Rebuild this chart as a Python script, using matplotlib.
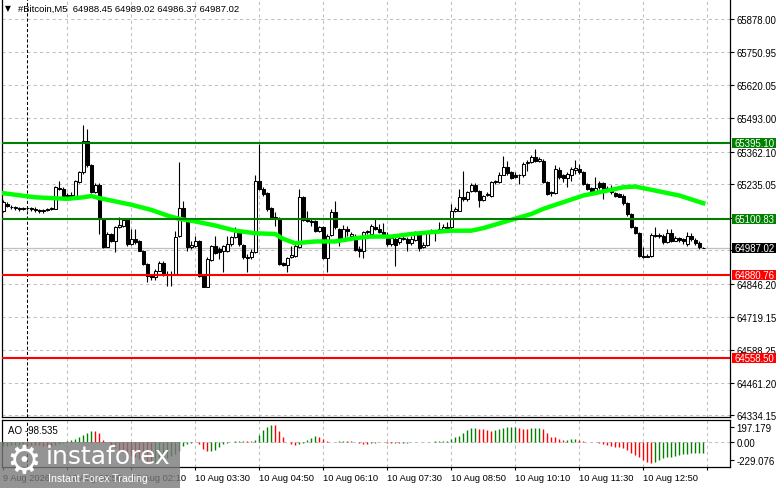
import matplotlib
matplotlib.use('Agg')
import matplotlib.pyplot as plt
from matplotlib.patches import Rectangle
import matplotlib.transforms as mtransforms

plt.rcParams['font.family'] = ['Liberation Sans', 'DejaVu Sans']

# ---------------- data ----------------
opens = [65129, 65158, 65148, 65145, 65142, 65140, 65142, 65141, 65139, 65135,
         65131, 65135, 65139, 65140, 65220, 65218, 65192, 65189, 65191, 65243,
         65282, 65405, 65308, 65204, 65233, 65100, 64992, 65041, 65015, 65067,
         65074, 65096, 65002, 65022, 65015, 64976, 64924, 64879, 64872, 64898,
         64927, 64885, 64880, 64885, 65035, 65141, 65090, 64989, 64995, 65015,
         64879, 64836, 64941, 64996, 64983, 64973, 64973, 65002, 65028, 65048,
         64999, 64953, 64950, 64970, 65249, 65217, 65200, 65142, 65109, 65100,
         64927, 64921, 64950, 64957, 64989, 65184, 65100, 65093, 65090, 65051,
         65070, 64947, 65038, 65126, 65061, 65025, 65060, 65035, 65022, 64983,
         64976, 65048, 65041, 65070, 65061, 65048, 65038, 65002, 65022, 65009,
         65022, 65022, 65005, 65018, 65048, 64989, 64999, 65051, 65048, 65051,
         65061, 65067, 65067, 65132, 65132, 65187, 65178, 65210, 65233, 65210,
         65174, 65194, 65191, 65243, 65243, 65272, 65304, 65282, 65269, 65269,
         65269, 65317, 65321, 65340, 65324, 65327, 65243, 65204, 65200, 65291,
         65269, 65259, 65272, 65291, 65295, 65282, 65236, 65220, 65207, 65239,
         65239, 65220, 65210, 65200, 65197, 65191, 65161, 65119, 65070, 65044,
         64957, 64953, 64957, 65038, 65035, 65035, 65009, 65044, 65015, 65025,
         65020, 65002, 65035, 65018, 65005, 64988.45]
highs = [65174, 65165, 65153, 65150, 65148, 65148, 65148, 65145, 65145, 65140,
         65140, 65142, 65148, 65230, 65249, 65226, 65200, 65204, 65252, 65288,
         65464, 65451, 65314, 65239, 65239, 65103, 65048, 65044, 65074, 65106,
         65100, 65100, 65061, 65061, 65018, 64979, 64927, 64885, 64905, 64934,
         64934, 64898, 64898, 65054, 65320, 65171, 65093, 65015, 65035, 65018,
         64885, 64950, 64999, 65035, 64989, 64999, 65035, 65035, 65067, 65054,
         65002, 64963, 64983, 65269, 65392, 65223, 65204, 65145, 65126, 65106,
         64931, 64953, 64996, 65002, 65217, 65191, 65132, 65100, 65096, 65074,
         65074, 65041, 65139, 65171, 65064, 65077, 65074, 65048, 65041, 64996,
         65054, 65057, 65080, 65100, 65080, 65083, 65048, 65031, 65035, 65035,
         65038, 65031, 65035, 65054, 65054, 65009, 65054, 65061, 65057, 65087,
         65080, 65087, 65158, 65145, 65217, 65285, 65210, 65239, 65239, 65213,
         65194, 65204, 65249, 65252, 65282, 65343, 65327, 65288, 65282, 65275,
         65321, 65330, 65347, 65373, 65340, 65334, 65249, 65210, 65308, 65301,
         65275, 65282, 65301, 65330, 65314, 65285, 65239, 65223, 65262, 65249,
         65243, 65230, 65233, 65204, 65200, 65197, 65165, 65122, 65074, 65048,
         64989, 64963, 65044, 65067, 65044, 65041, 65061, 65061, 65035, 65031,
         65025, 65048, 65044, 65025, 65012, 64989.02]
lows = [65127, 65145, 65140, 65135, 65132, 65135, 65135, 65129, 65126, 65123,
        65122, 65132, 65135, 65137, 65213, 65187, 65184, 65187, 65187, 65239,
        65275, 65301, 65200, 65200, 65041, 64986, 64989, 65009, 64970, 65064,
        65070, 64996, 64999, 65002, 64973, 64921, 64853, 64863, 64862, 64895,
        64879, 64840, 64837, 64882, 65028, 65103, 64976, 64983, 64992, 64875,
        64833, 64833, 64937, 64963, 64944, 64892, 64970, 64996, 65025, 64996,
        64944, 64892, 64944, 64966, 65213, 65191, 65132, 65103, 65074, 64921,
        64918, 64892, 64947, 64953, 64986, 65090, 65087, 65074, 65048, 65048,
        64944, 64892, 65035, 65061, 64996, 65021, 65035, 65017, 64976, 64950,
        64947, 65041, 65038, 65057, 65044, 65035, 64996, 64996, 64918, 65002,
        65018, 64973, 64999, 65015, 64976, 64986, 64996, 65044, 65015, 65048,
        65051, 65054, 65061, 65126, 65129, 65171, 65168, 65204, 65204, 65145,
        65168, 65191, 65187, 65236, 65239, 65269, 65272, 65256, 65259, 65236,
        65265, 65285, 65317, 65321, 65321, 65239, 65194, 65191, 65197, 65256,
        65243, 65223, 65249, 65275, 65275, 65233, 65213, 65200, 65204, 65217,
        65178, 65207, 65197, 65187, 65184, 65155, 65113, 65064, 65041, 64950,
        64947, 64950, 64953, 65031, 65025, 65002, 65005, 65009, 65012, 65009,
        65002, 64996, 65015, 64999, 64983, 64986.37]
closes = [65167, 65152, 65145, 65142, 65140, 65142, 65141, 65139, 65135, 65131,
          65135, 65139, 65142, 65223, 65218, 65189, 65187, 65194, 65246, 65282,
          65405, 65308, 65204, 65233, 65100, 64989, 65041, 65015, 65070, 65076,
          65096, 65002, 65022, 65009, 64976, 64924, 64879, 64872, 64898, 64927,
          64885, 64880, 64885, 65031, 65141, 65106, 64989, 64998, 65012, 64879,
          64836, 64944, 64996, 64966, 64970, 64996, 65002, 65028, 65048, 65002,
          64950, 64947, 64970, 65249, 65217, 65197, 65139, 65109, 65100, 64924,
          64921, 64947, 64960, 64996, 65184, 65096, 65090, 65087, 65051, 65067,
          64947, 65035, 65126, 65067, 65025, 65060, 65051, 65041, 64979, 64973,
          65048, 65051, 65074, 65061, 65048, 65038, 65002, 65025, 64999, 65025,
          65025, 65005, 65022, 65048, 64986, 64999, 65048, 65048, 65051, 65061,
          65067, 65057, 65132, 65139, 65184, 65178, 65204, 65233, 65207, 65174,
          65191, 65197, 65243, 65246, 65272, 65304, 65278, 65259, 65265, 65271,
          65314, 65321, 65340, 65324, 65334, 65243, 65197, 65200, 65295, 65262,
          65259, 65275, 65295, 65298, 65282, 65236, 65217, 65204, 65220, 65223,
          65217, 65213, 65204, 65191, 65187, 65161, 65119, 65070, 65044, 64957,
          64953, 64957, 65038, 65035, 65037, 65009, 65044, 65015, 65025, 65018,
          65015, 65035, 65022, 65005, 64989, 64987.02]

ma_idx = [0, 8, 16, 20, 22, 24, 28, 32, 37, 41, 44, 48, 53, 58, 63, 68, 70, 73, 78,
          83, 88, 92, 97, 102, 107, 112, 117, 120, 125, 132, 135, 140, 145, 150,
          155, 158, 164, 169, 175]
ma_val = [65200, 65184, 65178, 65184, 65189, 65181, 65168, 65155, 65135, 65113,
          65100, 65090, 65074, 65054, 65044, 65041, 65022, 65005, 65012, 65012,
          65025, 65031, 65031, 65041, 65048, 65054, 65054, 65064, 65087, 65119,
          65139, 65165, 65191, 65207, 65223, 65226, 65207, 65191, 65161]

ao = [-40, -37, -34, -31, -28, -25, -27, -29, -31, -33, -35, -36, -37, -30, -20,
      -10, 6, 12, 27, 42, 63, 80, 95, 93, 82, 20, -5, -30, -55, -75, -95, -110,
      -125, -138, -152, -165, -178, -190, -185, -175, -163, -150, -132, -110, -80,
      -40, -18, -9, -3, -18, -63, -88, -86, -79, -48, -18, -9, 2, 5, 7, 10, 8, 6,
      14, 57, 103, 133, 154, 150, 97, 42, -3, -18, -33, -18, -9, 12, 33, 51, 42,
      21, 4, 2, 1, 3, 4, 6, 3, -4, -10, -17, -21, -14, -7, -4, -6, -8, -10, -9,
      -10, -8, -7, -5, -4, -3, -1, 0, 2, 3, 4, 6, 9, 21, 39, 54, 76, 106, 121, 127,
      115, 112, 106, 100, 106, 112, 121, 136, 137, 138, 121, 120, 119, 124, 127,
      128, 112, 75, 45, 39, 21, 15, 16, 21, 22, 15, 9, 2, -1, -3, -12, -21, -30,
      -39, -45, -51, -60, -75, -100, -121, -142, -166, -184, -196, -187, -166,
      -151, -142, -136, -130, -121, -112, -110, -106, -104, -101, -98.535]

levels_green = [65395.10, 65100.83]
levels_red = [64880.76, 64558.50]
current_price = 64987.02

price_ticks = [65878.00, 65750.95, 65620.05, 65493.00, 65362.10, 65235.05, 65104.15,
               64977.10, 64846.20, 64719.15, 64588.25, 64461.20, 64334.15]
hidden_ticks = [65104.15, 64977.10]
ao_top, ao_bot = 197.179, -229.076

time_pos = [0, 16, 32, 48, 64, 80, 96, 112, 128, 144, 160, 176]
time_labels = ['9 Aug 2026', '10 Aug 00:50', '10 Aug 02:10', '10 Aug 03:30',
               '10 Aug 04:50', '10 Aug 06:10', '10 Aug 07:30', '10 Aug 08:50',
               '10 Aug 10:10', '10 Aug 11:30', '10 Aug 12:50', '']
day_sep = 6

# ---------------- layout ----------------
W, H = 781, 489
fig = plt.figure(figsize=(W / 100, H / 100), dpi=100)
fig.patch.set_facecolor('white')


def box(x0, y0, x1, y1):
    return [x0 / W, 1 - y1 / H, (x1 - x0) / W, (y1 - y0) / H]


ax = fig.add_axes(box(2, 0, 730, 418))
ax2 = fig.add_axes(box(2, 421, 730, 468), sharex=ax)

n = len(closes)
xs = list(range(n))
ax.set_xlim(-0.325, 181.675)
ymin, ymax = 64328.1, 65956.6
ax.set_ylim(ymin, ymax)
ppx = (ymax - ymin) / 418.0

GRID = '#C0C0C0'
for a in (ax, ax2):
    for t in time_pos[1:]:
        a.axvline(t, color=GRID, lw=0.75, ls=(0, (3, 3)), zorder=0)
    a.axvline(day_sep, color='black', lw=0.75, ls=(0, (3, 2)), zorder=0.5)
    for s in a.spines.values():
        s.set_color('black')
        s.set_linewidth(0.9)
ax.spines['top'].set_visible(False)

for p in price_ticks:
    ax.axhline(p, color=GRID, lw=0.75, ls=(0, (3, 3)), zorder=0)
ax.axhline(current_price, color='#C0C0C0', lw=0.9, zorder=0.6)

# candles
ax.vlines(xs, lows, highs, color='black', lw=0.8, zorder=2)
bottoms = [min(o, c) for o, c in zip(opens, closes)]
heights = [abs(c - o) for o, c in zip(opens, closes)]
fills = ['white' if c >= o else 'black' for o, c in zip(opens, closes)]
ax.bar(xs, heights, bottom=bottoms, width=0.75, color=fills, edgecolor='black',
       linewidth=0.75, zorder=3)

# moving average
ax.plot(ma_idx, ma_val, color='#00FF00', lw=3.2, zorder=4, solid_joinstyle='round')

# level lines
for v in levels_green:
    ax.axhline(v, color='#008000', lw=1.5, zorder=5)
for v in levels_red:
    ax.axhline(v, color='#FF0000', lw=1.5, zorder=5)

# right axis
ax.yaxis.tick_right()
ax.set_yticks(price_ticks)
ax.set_yticklabels(['' if p in hidden_ticks else '%.2f' % p for p in price_ticks])
ax.tick_params(axis='y', direction='out', length=3, width=0.8, pad=1.5,
               labelsize=6.9, colors='black')
ax.tick_params(axis='x', bottom=False, labelbottom=False)

trans = mtransforms.blended_transform_factory(ax.transAxes, ax.transData)
boxes = [(v, '#008000') for v in levels_green] + [(v, '#FF0000') for v in levels_red] + \
        [(current_price, 'black')]
for v, col in boxes:
    ax.add_patch(Rectangle((1.0025, v - 5 * ppx), 0.061, 10 * ppx, transform=trans,
                           facecolor=col, edgecolor='none', clip_on=False, zorder=10))
    ax.text(1.0055, v, '%.2f' % v, transform=trans, ha='left', va='center',
            color='white', fontsize=6.9, clip_on=False, zorder=11)

# AO panel
ax2.set_ylim(ao_bot, ao_top)
ax2.axhline(0, color=GRID, lw=0.75, ls=(0, (3, 3)), zorder=0)
ao_cols = []
for i, v in enumerate(ao):
    if i == 0 or v >= ao[i - 1]:
        ao_cols.append('#008000')
    else:
        ao_cols.append('#FF0000')
ax2.vlines(xs, [0] * n, ao, colors=ao_cols, lw=1.0, zorder=2)
ax2.yaxis.tick_right()
upx = (ao_top - ao_bot) / 47.0
ax2.set_yticks([ao_top - 7.3 * upx, 0, ao_bot + 7.3 * upx])
ax2.set_yticklabels(['%.3f' % ao_top, '0.00', '%.3f' % ao_bot])
ax2.tick_params(axis='y', direction='out', length=3, width=0.8, pad=1.5,
                labelsize=6.9, colors='black')
ax2.set_xticks(time_pos)
ax2.set_xticklabels(time_labels)
for lbl in ax2.get_xticklabels():
    lbl.set_ha('left')
ax2.tick_params(axis='x', direction='out', length=2.5, width=0.8, pad=1.5,
                labelsize=6.7, colors='black')
ax2.text(0.008, 0.79, 'AO %.3f' % ao[-1], transform=ax2.transAxes, fontsize=7,
         ha='left', va='center', color='black', zorder=6)

# title
fig.text(5 / W, 1 - 9 / H, '\u25BC', fontsize=5.5, ha='left', va='center',
         family=['DejaVu Sans'])
fig.text(18 / W, 1 - 9 / H,
         '#Bitcoin,M5  %.2f %.2f %.2f %.2f' % (opens[-1], highs[-1], lows[-1], closes[-1]),
         fontsize=6.8, ha='left', va='center', color='black')

# watermark
ov = fig.add_axes([0, 0, 1, 1], zorder=20)
ov.set_xlim(0, W)
ov.set_ylim(H, 0)
ov.axis('off')
ov.patch.set_alpha(0)
ov.add_patch(Rectangle((0, 443), 180, 46, facecolor='#7a7a7a', alpha=0.8,
                       edgecolor='none'))
ov.text(24, 462, '\u2699', fontsize=28, color='white', ha='center', va='center',
        family=['DejaVu Sans'])
ov.text(46, 464, 'instaforex', fontsize=18, color='white', ha='left',
        va='baseline', family=['DejaVu Sans'])
ov.text(48, 482, 'Instant Forex Trading', fontsize=7.6, color='white', ha='left',
        va='baseline')

fig.savefig('out.png', dpi=100, facecolor='white')
